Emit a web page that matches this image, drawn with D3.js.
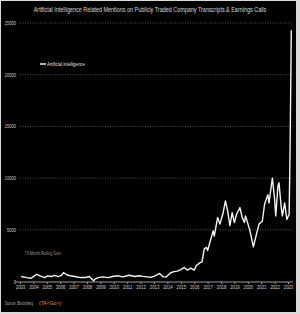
<!DOCTYPE html>
<html>
<head>
<meta charset="utf-8">
<script src="https://cdn.jsdelivr.net/npm/d3@7"></script>
<style>
  html, body { margin: 0; padding: 0; background: #fff; }
  svg { display: block; }
  text { font-family: "Liberation Sans", Arial, sans-serif; }
</style>
</head>
<body>
<svg id="chart" width="300" height="314"></svg>
<script>
// 3-month rolling sum of AI mentions
const months = [
  "2003-02","2003-07","2003-11","2004-04","2004-07","2004-11","2005-02","2005-05","2005-08","2005-11",
  "2006-02","2006-04","2006-07","2006-10","2007-02","2007-07","2007-11","2008-03","2008-07","2008-08",
  "2008-11","2009-03","2009-08","2009-12","2010-05","2010-09","2011-03","2011-08","2011-12","2012-03",
  "2012-07","2012-10","2013-02","2013-06","2013-09","2013-12","2014-04","2014-07","2014-10","2015-01",
  "2015-04","2015-07","2015-10","2016-01","2016-03","2016-06","2016-08","2016-10","2016-12","2017-01",
  "2017-06","2017-07","2017-10","2017-12","2018-03","2018-05","2018-07","2018-09","2018-11","2019-01",
  "2019-03","2019-06","2019-08","2019-10","2019-11","2020-03","2020-06","2020-08","2020-11","2021-02",
  "2021-04","2021-07","2021-08","2021-11","2022-01","2022-02","2022-04","2022-05","2022-07","2022-08",
  "2022-10","2022-12","2023-02","2023-03","2023-04"
];
const mentions = [
  480, 380, 320, 700, 550, 380, 550, 480, 600, 480,
  600, 850, 650, 550, 480, 380, 380, 480, 70, 220,
  380, 450, 380, 480, 550, 450, 600, 480, 550, 500,
  450, 400, 550, 780, 450, 450, 850, 950, 1000, 1150,
  1350, 1100, 1300, 1100, 1550, 1800, 1900, 3150, 3300, 3000,
  4900, 4400, 6200, 5550, 6650, 7800, 6800, 5400, 6650, 5700,
  6500, 7150, 6200, 5700, 6350, 4900, 3350, 4250, 5550, 5850,
  7450, 8400, 7600, 10000, 7950, 6350, 9200, 9550, 7150, 6350,
  7600, 6000, 6500, 13500, 24300
];
const yTicks = [0, 5000, 10000, 15000, 20000, 25000];
const seriesName = "Artificial Intelligence";
const title = "Artificial Intelligence Related Mentions on Publicly Traded Company Transcripts & Earnings Calls";

const svg = d3.select("#chart");
const parse = d3.timeParse("%Y-%m");
const data = months.map((m, i) => ({ date: parse(m), value: mentions[i] }));

// the original uses a very narrow font: scale text horizontally to width w
function squeeze(sel, w) {
  sel.each(function (d) {
    const t = d3.select(this);
    const tx = +t.attr("x") || 0, ty = +t.attr("y") || 0;
    const width = typeof w === "function" ? w(d) : w;
    const k = width / this.getComputedTextLength();
    t.attr("x", 0).attr("y", 0)
      .attr("transform", `translate(${tx},${ty}) scale(${k},1)`);
  });
}

// light frame + black panel
svg.append("rect")
  .attr("x", 0).attr("y", 0).attr("width", 300).attr("height", 314)
  .attr("fill", "#d9d9d9");
svg.append("rect")
  .attr("x", 1).attr("y", 1).attr("width", 295).attr("height", 311)
  .attr("fill", "#000");

const x = d3.scaleTime()
  .domain([new Date(2003, 0, 1), new Date(2023, 0, 1)])
  .range([20, 288]);
const y = d3.scaleLinear().domain([0, 25000]).range([281.5, 23]);

// title
svg.append("text")
  .attr("x", 150).attr("y", 12)
  .attr("text-anchor", "middle")
  .attr("font-size", 6.5)
  .attr("fill", "#d8d8d8")
  .text(title)
  .call(squeeze, 233);

// gridlines + y labels
const grid = svg.append("g");
grid.selectAll("line")
  .data(yTicks.filter(d => d > 0))
  .enter().append("line")
  .attr("x1", 20).attr("x2", 293)
  .attr("y1", d => y(d)).attr("y2", d => y(d))
  .attr("stroke", "#777")
  .attr("stroke-width", 0.7)
  .attr("stroke-dasharray", "1,1.5");
grid.selectAll("text")
  .data(yTicks)
  .enter().append("text")
  .attr("x", 16).attr("y", d => y(d) + 2)
  .attr("text-anchor", "end")
  .attr("font-size", 5.5)
  .attr("fill", "#cfcfcf")
  .text(d => d)
  .call(squeeze, d => String(d).length * 2.25);

// x axis
const xAxis = d3.axisBottom(x)
  .ticks(d3.timeYear.every(1))
  .tickFormat(d3.timeFormat("%Y"))
  .tickSize(2)
  .tickSizeOuter(0);
const gx = svg.append("g")
  .attr("transform", "translate(0,282)")
  .call(xAxis);
gx.select(".domain").attr("stroke", "#9a9a9a").attr("d", "M15,0H293");
gx.selectAll(".tick line").attr("stroke", "#9a9a9a");
gx.selectAll(".tick text")
  .attr("fill", "#d0d0d0")
  .attr("font-size", 5.5)
  .attr("font-family", "'Liberation Sans', Arial, sans-serif")
  .attr("dy", "0.9em")
  .attr("y", 2.5)
  .call(squeeze, 9.5);

// series line
const line = d3.line()
  .x(d => x(d.date))
  .y(d => y(d.value));
svg.append("path")
  .datum(data)
  .attr("fill", "none")
  .attr("stroke", "#f4f4f4")
  .attr("stroke-width", 1.4)
  .attr("stroke-linejoin", "round")
  .attr("d", line);

// legend
svg.append("line")
  .attr("x1", 40).attr("x2", 46).attr("y1", 64).attr("y2", 64)
  .attr("stroke", "#f4f4f4").attr("stroke-width", 1.5);
svg.append("text")
  .attr("x", 47).attr("y", 66)
  .attr("font-size", 5.5)
  .attr("fill", "#e0e0e0")
  .text(seriesName)
  .call(squeeze, 38);

// footnotes
svg.append("text")
  .attr("x", 25).attr("y", 255)
  .attr("font-size", 5)
  .attr("fill", "#9a9a9a")
  .text("*3-Month Rolling Sum")
  .call(squeeze, 36);
svg.append("text")
  .attr("x", 5).attr("y", 305)
  .attr("font-size", 5)
  .attr("fill", "#b0b0b0")
  .text("Source: Bloomberg")
  .call(squeeze, 28);
svg.append("text")
  .attr("x", 39).attr("y", 305)
  .attr("font-size", 6)
  .attr("fill", "#e8902a")
  .text("{TA<Go>}")
  .call(squeeze, 22);
</script>
</body>
</html>
